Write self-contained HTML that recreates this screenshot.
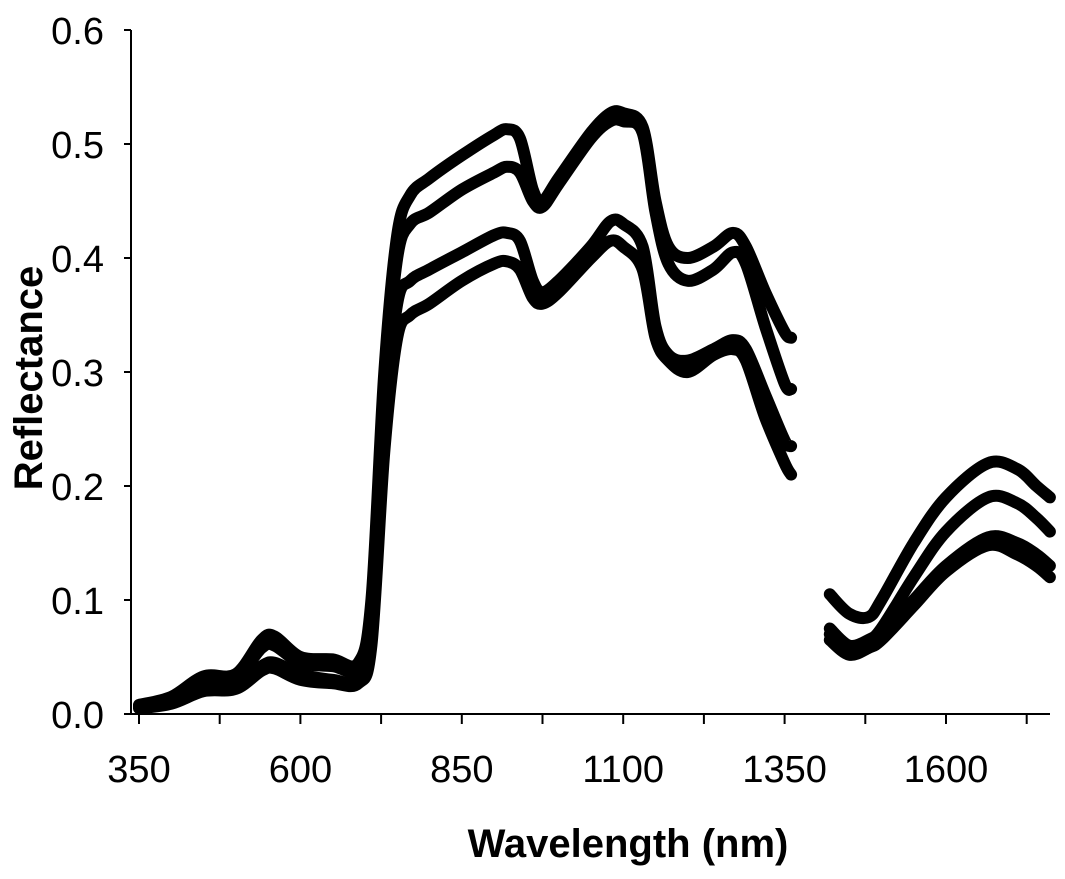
<!DOCTYPE html>
<html><head><meta charset="utf-8"><style>
body{margin:0;background:#fff;}
svg text{font-family:"Liberation Sans",Arial,sans-serif;fill:#000;}
</style></head><body>
<svg id="chart" width="1065" height="874" viewBox="0 0 1065 874" xmlns="http://www.w3.org/2000/svg">
<g id="axes"></g>
<g id="series"></g>
<text transform="translate(42,378) rotate(-90)" text-anchor="middle" font-size="40" font-weight="bold">Reflectance</text>
<text x="628" y="857" text-anchor="middle" font-size="40" font-weight="bold">Wavelength (nm)</text>
</svg>
<script>
const yTicks = [0.0, 0.1, 0.2, 0.3, 0.4, 0.5, 0.6];
const yTickLabels = ["0.0","0.1","0.2","0.3","0.4","0.5","0.6"];
const xTicks = [350, 475, 600, 725, 850, 975, 1100, 1225, 1350, 1475, 1600, 1725];
const xTickLabels = ["350","600","850","1100","1350","1600"];
const xLabelValues = [350, 600, 850, 1100, 1350, 1600];
const wlLeft = [350,400,450,500,540,560,600,650,690,710,730,750,770,800,850,900,920,940,960,975,1000,1050,1080,1100,1130,1150,1170,1200,1240,1270,1290,1320,1350,1360];
const wlRight = [1420,1450,1480,1500,1550,1600,1665,1710,1740,1761];
const s1Left = [0.008,0.015,0.033,0.035,0.065,0.068,0.05,0.048,0.045,0.1,0.3,0.42,0.455,0.47,0.49,0.508,0.513,0.505,0.46,0.45,0.47,0.51,0.527,0.527,0.515,0.45,0.41,0.4,0.41,0.422,0.41,0.37,0.335,0.33];
const s2Left = [0.007,0.013,0.03,0.032,0.058,0.06,0.045,0.042,0.04,0.09,0.28,0.40,0.43,0.44,0.46,0.475,0.48,0.475,0.45,0.445,0.465,0.505,0.52,0.52,0.51,0.44,0.395,0.38,0.39,0.405,0.395,0.34,0.29,0.285];
const s3Left = [0.006,0.01,0.025,0.026,0.042,0.045,0.035,0.03,0.03,0.07,0.25,0.36,0.38,0.39,0.405,0.42,0.422,0.415,0.38,0.37,0.38,0.41,0.432,0.43,0.41,0.34,0.315,0.31,0.32,0.328,0.32,0.28,0.24,0.235];
const s4Left = [0.005,0.009,0.02,0.022,0.038,0.04,0.03,0.027,0.027,0.06,0.23,0.33,0.35,0.36,0.38,0.395,0.397,0.39,0.365,0.36,0.37,0.40,0.415,0.41,0.39,0.33,0.31,0.30,0.315,0.32,0.31,0.26,0.22,0.21];
const s1Right = [0.105,0.088,0.085,0.1,0.15,0.19,0.22,0.215,0.2,0.19];
const s2Right = [0.075,0.06,0.065,0.075,0.12,0.16,0.19,0.185,0.172,0.16];
const s3Right = [0.07,0.055,0.06,0.07,0.1,0.13,0.155,0.15,0.14,0.13];
const s4Right = [0.065,0.052,0.058,0.065,0.095,0.125,0.148,0.14,0.13,0.12];

const X0=139, XS=0.6456, Y0=714, YS=1140;
function xScale(v){return X0+(v-350)*XS;}
function yScale(v){return Y0-v*YS;}
const NS="http://www.w3.org/2000/svg";
const axes=document.getElementById('axes');
const sg=document.getElementById('series');
function mk(tag,attrs,parent){const e=document.createElementNS(NS,tag);for(const k in attrs)e.setAttribute(k,attrs[k]);parent.appendChild(e);return e;}

const ya=mk('line',{x1:131,y1:30,x2:131,y2:714,stroke:'#000','stroke-width':2},axes);


const xa=mk('line',{x1:130,y1:714,x2:1050,y2:714,stroke:'#000','stroke-width':2},axes);


yTicks.forEach((t,i)=>{
  const y=yScale(t);
  const l=mk('line',{x1:124,y1:y,x2:131,y2:y,stroke:'#000','stroke-width':2},axes);
  
  
  const tx=mk('text',{x:104,y:y+14,'text-anchor':'end','font-size':38},axes);
  tx.textContent=yTickLabels[i];
  
  
});
xTicks.forEach(t=>{
  const x=xScale(t);
  const l=mk('line',{x1:x,y1:714,x2:x,y2:724,stroke:'#000','stroke-width':2},axes);
  
  
});
xLabelValues.forEach((t,i)=>{
  const tx=mk('text',{x:xScale(t),y:782,'text-anchor':'middle','font-size':38},axes);
  tx.textContent=xTickLabels[i];
  
  
});
function draw(wl,vals,name){
  const P=wl.map((w,i)=>[xScale(w),yScale(vals[i])]);
  let d='M'+P[0][0].toFixed(1)+' '+P[0][1].toFixed(1);
  for(let i=0;i<P.length-1;i++){
    const p0=P[Math.max(0,i-1)],p1=P[i],p2=P[i+1],p3=P[Math.min(P.length-1,i+2)];
    const c1=[p1[0]+(p2[0]-p0[0])/6,p1[1]+(p2[1]-p0[1])/6];
    const c2=[p2[0]-(p3[0]-p1[0])/6,p2[1]-(p3[1]-p1[1])/6];
    d+=' C'+c1[0].toFixed(1)+' '+c1[1].toFixed(1)+' '+c2[0].toFixed(1)+' '+c2[1].toFixed(1)+' '+p2[0].toFixed(1)+' '+p2[1].toFixed(1);
  }
  const p=mk('path',{d:d,fill:'none',stroke:'#000','stroke-width':12,'stroke-linejoin':'round','stroke-linecap':'round'},sg);
  
  
}
[[s1Left,s1Right],[s2Left,s2Right],[s3Left,s3Right],[s4Left,s4Right]].forEach((s,i)=>{
  draw(wlLeft,s[0],'series-'+(i+1)+'-vis-nir');
  draw(wlRight,s[1],'series-'+(i+1)+'-swir');
});
</script>
</body></html>
